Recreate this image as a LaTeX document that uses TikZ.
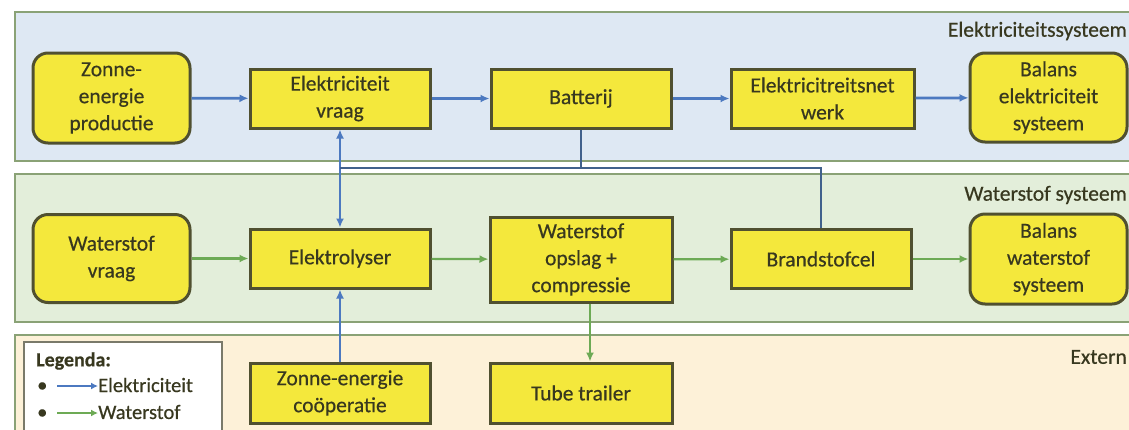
\documentclass[tikz,border=0pt]{standalone}
\usepackage{fontspec}
\setmainfont{Carlito}[FakeBold=0.5]
\usetikzlibrary{arrows.meta}
\definecolor{elecfill}{HTML}{DEE8F3}
\definecolor{hfill}{HTML}{E3EEDA}
\definecolor{extfill}{HTML}{FDF1D8}
\definecolor{panelborder}{HTML}{8AA276}
\definecolor{boxfill}{HTML}{F4E83C}
\definecolor{boxborder}{HTML}{505030}
\definecolor{elecline}{HTML}{4C79C0}
\definecolor{busline}{HTML}{41618C}
\definecolor{hline}{HTML}{6DAA55}
\definecolor{txt}{HTML}{38381F}
\definecolor{legborder}{HTML}{7A7A6A}
\tikzset{
  panel/.style={draw=panelborder, line width=2pt},
  box/.style={draw=boxborder, line width=3pt, fill=boxfill, text=txt, align=center, inner sep=0pt,
    font=\fontsize{21.5}{27}\selectfont},
  rbox/.style={box, rounded corners=15pt},
  eflow/.style={draw=elecline, line width=2.8pt, -{Latex[length=9pt,width=8pt]}},
  hflow/.style={draw=hline, line width=2.2pt, -{Latex[length=9pt,width=8pt]}},
  bus/.style={draw=busline, line width=2.8pt},
  plabel/.style={text=txt, anchor=east, inner sep=0pt, font=\fontsize{21.5}{25}\selectfont},
  legtext/.style={text=txt, anchor=west, inner sep=0pt, font=\fontsize{20.5}{24}\selectfont}
}
\begin{document}
\begin{tikzpicture}[x=1pt,y=-1pt]
\clip (0,0) rectangle (1129,429);
\fill[white] (0,0) rectangle (1129,429);
% panels
\draw[panel, fill=elecfill] (15,12) rectangle (1145,161);
\draw[panel, fill=hfill] (15,174) rectangle (1145,322);
\draw[panel, fill=extfill] (15,335) rectangle (1145,445);
\node[plabel] (lbe) at (1127,31) {Elektriciteitssysteem};
\node[plabel] (lbh) at (1127,195) {Waterstof systeem};
\node[plabel] (lbx) at (1127,357) {Extern};
% nodes row 1
\node[rbox, minimum width=157pt, minimum height=90pt] (zon) at (111.5,98) {Zonne-\\energie\\productie};
\node[box, minimum width=180pt, minimum height=59pt] (vraag) at (340,98.5) {Elektriciteit\\vraag};
\node[box, minimum width=180pt, minimum height=59pt] (bat) at (581,98.5) {Batterij};
\node[box, minimum width=183pt, minimum height=59pt] (net) at (822.5,98.5) {Elektricitreitsnet\\werk};
\node[rbox, minimum width=157pt, minimum height=89pt] (bale) at (1048.5,97.5) {Balans\\elektriciteit\\systeem};
% nodes row 2
\node[rbox, minimum width=157pt, minimum height=88pt] (wvr) at (111.5,258.5) {Waterstof\\vraag};
\node[box, minimum width=180pt, minimum height=59pt] (elz) at (340,258.5) {Elektrolyser};
\node[box, minimum width=182pt, minimum height=85pt] (ops) at (581,259.5) {Waterstof\\opslag +\\compressie};
\node[box, minimum width=180pt, minimum height=59pt] (fc) at (821,259) {Brandstofcel};
\node[rbox, minimum width=157pt, minimum height=90pt] (balw) at (1048.5,259) {Balans\\waterstof\\systeem};
% nodes row 3
\node[box, minimum width=180pt, minimum height=60pt] (coop) at (340,393) {Zonne-energie\\coöperatie};
\node[box, minimum width=182pt, minimum height=60pt] (tube) at (581,393) {Tube trailer};
% electricity flows
\draw[eflow] (zon) -- (vraag);
\draw[eflow] (vraag) -- (bat);
\draw[eflow] (bat) -- (net);
\draw[eflow] (net) -- (bale);
\draw[eflow, {Latex[length=9pt,width=8pt]}-{Latex[length=9pt,width=8pt]}] (vraag.south) -- (elz.north);
\draw[eflow] (coop.north) -- (elz.south);
\coordinate (busL) at (340,168);
\coordinate (busR) at (821,168);
\draw[bus] (bat.south) -- (bat.south |- busL);
\draw[bus] (busL) -- (busR) -- (fc.north);
% hydrogen flows
\draw[hflow] (wvr) -- (elz);
\draw[hflow] (elz) -- (ops);
\draw[hflow] (ops) -- (fc);
\draw[hflow] (fc) -- (balw);
\coordinate (opsb) at (590,302);
\draw[hflow] (ops.south -| opsb) -- (tube.north -| opsb);
% legend
\draw[draw=legborder, line width=1.5pt, fill=white] (24,342) rectangle (222,440);
\node[legtext, font=\bfseries\fontsize{20}{24}\selectfont] (legt) at (36,361) {Legenda:};
\node[legtext] (b1) at (37,387) {\textbullet};
\node[legtext] (b2) at (37,414) {\textbullet};
\coordinate (l1a) at (57,386);
\coordinate (l1b) at (98,386);
\coordinate (l2a) at (57,413);
\coordinate (l2b) at (98,413);
\draw[eflow, line width=1.8pt, -{Latex[length=7pt,width=7pt]}] (l1a) -- (l1b);
\draw[hflow, line width=1.8pt, -{Latex[length=7pt,width=7pt]}] (l2a) -- (l2b);
\node[legtext] (lt1) at (98,385) {Elektriciteit};
\node[legtext] (lt2) at (98,412) {Waterstof};
\end{tikzpicture}
\end{document}
